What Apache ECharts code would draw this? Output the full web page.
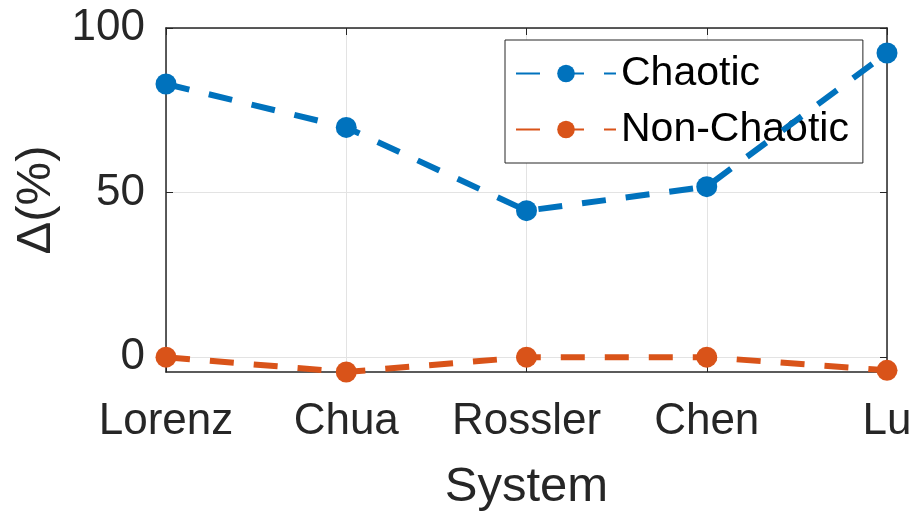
<!DOCTYPE html>
<html>
<head>
<meta charset="utf-8">
<script src="https://cdn.jsdelivr.net/npm/echarts@6/dist/echarts.min.js"></script>
<style>
  html, body { margin: 0; padding: 0; background: #fff; }
  #chart { width: 912px; height: 512px; }
</style>
</head>
<body>
<div id="chart"></div>
<script>
// 数据
const systems = ["Lorenz", "Chua", "Rossler", "Chen", "Lu"];
const chaotic = [83, 69.8, 44.5, 51.8, 92.4];
const nonChaotic = [0, -4.5, 0, 0, -4];
const yTicks = [0, 50, 100];

const FONT = "Liberation Sans";
const BLUE = "#0072BD";
const ORANGE = "#D95319";
const AXIS = "#262626";

const chart = echarts.init(document.getElementById("chart"));

const lineSeries = (name, data, color) => ({
  name: name,
  type: "line",
  data: data,
  clip: false,
  symbol: "circle",
  symbolSize: 21,
  itemStyle: { color: color },
  lineStyle: { color: color, width: 6, type: [24, 20], cap: "butt" },
  z: 5,
});

const option = {
  animation: false,
  // 固定绘图区，不让标签挤压网格
  grid: { left: 166, right: 25, top: 28, bottom: 140, containLabel: false, outerBoundsMode: "none" },
  legend: {
    left: 505,
    top: 40,
    orient: "vertical",
    backgroundColor: "#fff",
    borderColor: AXIS,
    borderWidth: 1,
    padding: [13, 14, 13, 10],
    itemWidth: 100,
    itemHeight: 22,
    itemGap: 15,
    itemTextGap: 8,
    textStyle: { fontFamily: FONT, fontSize: 41, color: "#000" },
    data: ["Chaotic", "Non-Chaotic"],
  },
  xAxis: [
    {
      type: "category",
      data: systems,
      boundaryGap: false,
      name: "System",
      nameLocation: "middle",
      nameGap: 91,
      nameTextStyle: { fontFamily: FONT, fontSize: 49, color: AXIS },
      axisLine: { onZero: false, lineStyle: { color: AXIS, width: 1.5 } },
      axisTick: { inside: true, length: 7, interval: 0, lineStyle: { color: AXIS } },
      axisLabel: { fontFamily: FONT, fontSize: 44, color: AXIS, margin: 28, interval: 0 },
      splitLine: { show: true, interval: 0, lineStyle: { color: "#e3e3e3", width: 1 } },
    },
    {
      type: "category",
      data: systems,
      boundaryGap: false,
      position: "top",
      axisLine: { onZero: false, lineStyle: { color: AXIS, width: 1.5 } },
      axisTick: { inside: true, length: 7, interval: 0, lineStyle: { color: AXIS } },
      axisLabel: { show: false },
      splitLine: { show: false },
    },
  ],
  yAxis: [
    {
      type: "value",
      min: -4.5,
      max: 100,
      name: "Δ(%)",
      nameLocation: "middle",
      nameGap: 104,
      nameTextStyle: { fontFamily: FONT, fontSize: 49, color: AXIS },
      axisLine: { show: true, onZero: false, lineStyle: { color: AXIS, width: 1.5 } },
      axisTick: { show: true, inside: true, length: 7, customValues: yTicks, lineStyle: { color: AXIS } },
      axisLabel: {
        fontFamily: FONT, fontSize: 44, color: AXIS, margin: 21,
        customValues: yTicks, padding: [8, 0, 0, 0],
      },
      splitLine: { show: true, lineStyle: { color: "#e3e3e3", width: 1 } },
    },
    {
      type: "value",
      min: -4.5,
      max: 100,
      position: "right",
      axisLine: { show: true, onZero: false, lineStyle: { color: AXIS, width: 1.5 } },
      axisTick: { show: true, inside: true, length: 7, customValues: yTicks, lineStyle: { color: AXIS } },
      axisLabel: { show: false },
      splitLine: { show: false },
    },
  ],
  series: [
    lineSeries("Chaotic", chaotic, BLUE),
    lineSeries("Non-Chaotic", nonChaotic, ORANGE),
  ],
};

chart.setOption(option);
</script>
</body>
</html>
